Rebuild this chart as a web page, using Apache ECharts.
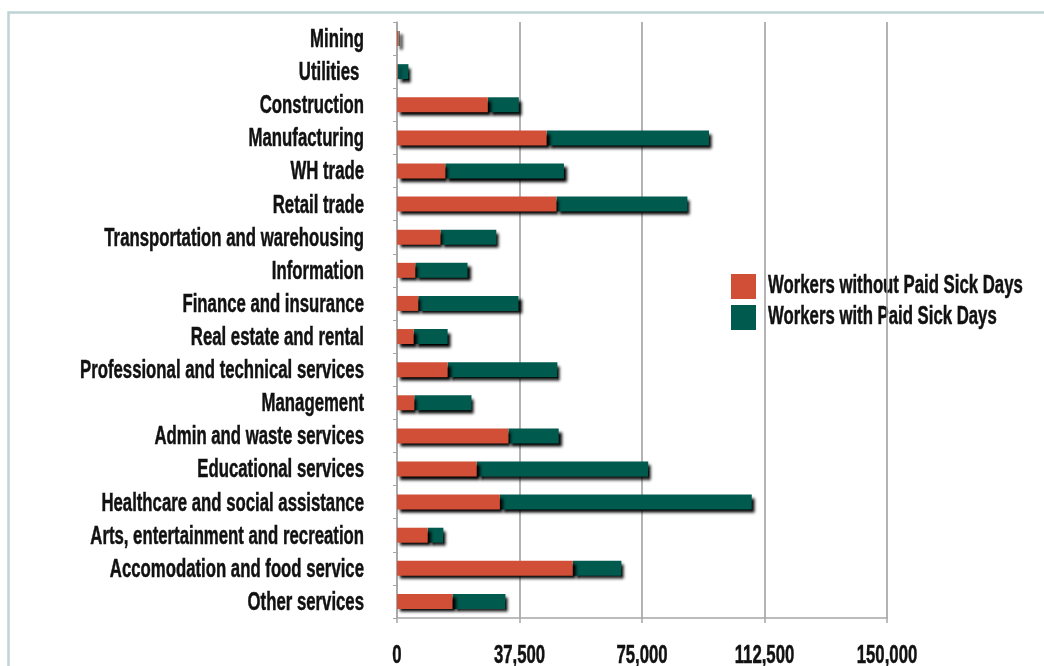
<!DOCTYPE html>
<html>
<head>
<meta charset="utf-8">
<script src="https://cdn.jsdelivr.net/npm/echarts@6/dist/echarts.min.js"></script>
<style>
  html, body { margin: 0; padding: 0; background: #ffffff; }
  #chart { width: 1044px; height: 666px; }
</style>
</head>
<body>
<div id="chart"></div>
<script>
// Industries, listed top to bottom
const industries = [
  'Mining', 'Utilities ', 'Construction', 'Manufacturing', 'WH trade', 'Retail trade',
  'Transportation and warehousing', 'Information', 'Finance and insurance',
  'Real estate and rental', 'Professional and technical services', 'Management',
  'Admin and waste services', 'Educational services', 'Healthcare and social assistance',
  'Arts, entertainment and recreation', 'Accomodation and food service', 'Other services'
];

// Number of workers without paid sick days
const withoutPaidSick = [
  500, 200, 27800, 45800, 14800, 48800,
  13300, 5600, 6500,
  5100, 15500, 5300,
  34100, 24400, 31500,
  9400, 53800, 17000
];

// Number of workers with paid sick days
const withPaidSick = [
  300, 3300, 9500, 49700, 36300, 40100,
  17100, 16000, 30700,
  10400, 33600, 17500,
  15400, 52500, 77100,
  4800, 14900, 16200
];

// Value axis ticks
const xTicks = [0, 37500, 75000, 112500, 150000];

const seriesNames = ['Workers without Paid Sick Days', 'Workers with Paid Sick Days'];
const colors = ['#d04f36', '#005a4e'];

// Tall condensed lettering: a regular bold face squeezed horizontally
const FONT_FAMILY = '"Liberation Sans", Arial, sans-serif';
const FONT_SIZE = 25;
const FONT = 'bold ' + FONT_SIZE + 'px ' + FONT_FAMILY;
const measureCtx = document.createElement('canvas').getContext('2d');
measureCtx.font = FONT;
const SQUEEZE = 284 / measureCtx.measureText('Professional and technical services').width;

const textStyle = (text, align) => ({
  text: text,
  font: FONT,
  fill: '#111111',
  stroke: '#111111',
  lineWidth: 0.5,
  align: align,
  verticalAlign: 'middle'
});

const chart = echarts.init(document.getElementById('chart'), null, { renderer: 'canvas' });

const barShadow = {
  shadowColor: 'rgba(0,0,0,1)',
  shadowBlur: 3,
  shadowOffsetX: 3,
  shadowOffsetY: 3.5
};

// Legend block: swatches with squeezed captions
const legendLeft = 731, legendTop = 274, swatch = 25, legendGap = 6;
const legendGraphics = seriesNames.map((name, i) => ({
  type: 'group',
  x: legendLeft,
  y: legendTop + i * (swatch + legendGap),
  children: [
    { type: 'rect', shape: { x: 0, y: 0, width: swatch, height: swatch }, style: { fill: colors[i] } },
    { type: 'text', x: swatch + 12, y: swatch / 2, scaleX: SQUEEZE, style: textStyle(name, 'left') }
  ],
  z: 50
}));

chart.setOption({
  backgroundColor: '#ffffff',
  animation: false,
  graphic: [{
    type: 'rect',
    shape: { x: 8.5, y: 12.5, width: 1100, height: 700 },
    style: { fill: 'none', stroke: '#bfd4d4', lineWidth: 2.5 },
    silent: true,
    z: -10
  }].concat(legendGraphics),
  grid: { left: 397, right: 157, top: 22, bottom: 48, outerBoundsMode: 'none' },
  xAxis: {
    type: 'value',
    min: xTicks[0],
    max: xTicks[xTicks.length - 1],
    interval: xTicks[1] - xTicks[0],
    axisLine: { show: true, lineStyle: { color: '#a6a6a6', width: 1.5 } },
    axisTick: { show: true, length: 5, lineStyle: { color: '#a6a6a6', width: 1.5 } },
    splitLine: { show: true, lineStyle: { color: '#9a9a9a', width: 1.5 } },
    axisLabel: { show: false }
  },
  yAxis: {
    type: 'category',
    inverse: true,
    data: industries,
    axisLine: { show: true, lineStyle: { color: '#a6a6a6', width: 1.5 } },
    axisTick: { show: true, length: 4, lineStyle: { color: '#a6a6a6', width: 1 } },
    axisLabel: { show: false }
  },
  series: [
    {
      name: seriesNames[0],
      type: 'bar',
      stack: 'workers',
      barWidth: 15,
      z: 3,
      itemStyle: Object.assign({ color: colors[0] }, barShadow),
      data: withoutPaidSick
    },
    {
      name: seriesNames[1],
      type: 'bar',
      stack: 'workers',
      barWidth: 15,
      z: 2,
      itemStyle: Object.assign({ color: colors[1] }, barShadow),
      data: withPaidSick
    },
    {
      // Category names beside the value axis origin
      type: 'custom',
      clip: false,
      silent: true,
      z: 10,
      data: industries.map((name, i) => [0, i]),
      renderItem: (params, api) => {
        const p = api.coord([0, api.value(1)]);
        return {
          type: 'text',
          x: p[0] - 33,
          y: p[1] + 1.5,
          scaleX: SQUEEZE,
          style: textStyle(industries[params.dataIndex], 'right')
        };
      }
    },
    {
      // Value tick labels under the axis
      type: 'custom',
      clip: false,
      silent: true,
      z: 10,
      data: xTicks.map(v => [v, 0]),
      renderItem: (params, api) => {
        const p = api.coord([api.value(0), 0]);
        const cs = params.coordSys;
        return {
          type: 'text',
          x: p[0],
          y: cs.y + cs.height + 38,
          scaleX: SQUEEZE,
          style: textStyle(xTicks[params.dataIndex].toLocaleString('en-US'), 'center')
        };
      }
    }
  ]
});
</script>
</body>
</html>
